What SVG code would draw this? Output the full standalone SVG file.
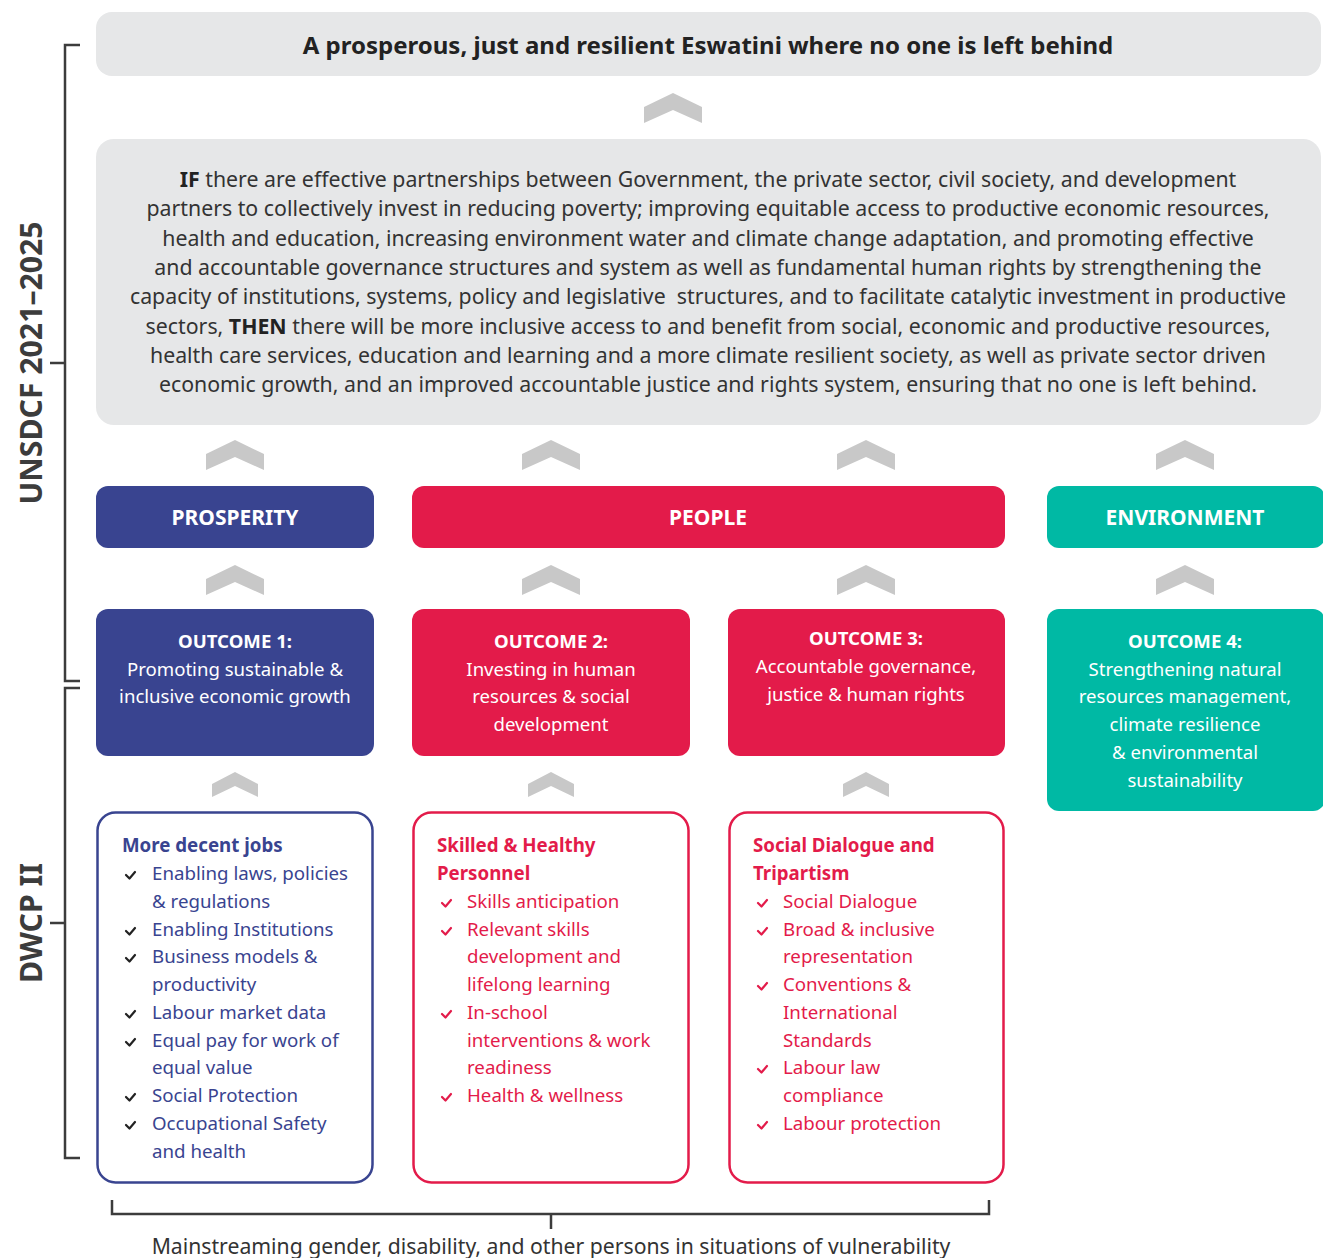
<svg xmlns="http://www.w3.org/2000/svg" width="1323" height="1258" viewBox="0 0 1323 1258">
<defs>
<style>
text{font-family:"Noto Sans","Open Sans","Liberation Sans",sans-serif;}
.g{fill:#e6e7e8;}
.chev{fill:#c8c8c8;}
.br{fill:none;stroke:#3c3c3c;stroke-width:2.5;}
.para{font-size:21.3px;fill:#333;text-anchor:middle;}
.band{font-size:21px;font-weight:bold;fill:#fff;text-anchor:middle;}
.oc{font-size:18.6px;fill:#fff;text-anchor:middle;}
.ocb{font-weight:bold;}
.li{font-size:18.7px;}
.hd{font-weight:bold;}
.blue{fill:#394490;}
.red{fill:#e31b4a;}
.ck{fill:none;stroke-width:2.2;stroke-linecap:round;stroke-linejoin:round;}
</style>
<path id="chev" d="M-29,30 L-29,14 L0,0 L29,14 L29,30 L0,17 Z"/>
<path id="chevs" d="M-23,25 L-23,12 L0,0 L23,12 L23,25 L0,14 Z"/>
<path id="ck" d="M0,0 L3.5,3.5 L9,-3"/>
</defs>
<rect width="1323" height="1258" fill="#fff"/>

<g id="brackets">
<path class="br" d="M80,45 H65 V681 H80 M50,363 H65"/>
<path class="br" d="M80,688 H65 V1158 H80 M50,923 H65"/>
<path class="br" d="M112,1200 V1214 H989 V1200 M551,1214 V1229"/>
<text transform="translate(42,363) rotate(-90)" font-size="30.2" font-weight="bold" fill="#3c3c3c" text-anchor="middle">UNSDCF 2021–2025</text>
<text transform="translate(42,923) rotate(-90)" font-size="30.2" font-weight="bold" fill="#3c3c3c" text-anchor="middle">DWCP II</text>
<text x="551" y="1254" font-size="21.2" fill="#333" text-anchor="middle">Mainstreaming gender, disability, and other persons in situations of vulnerability</text>
</g>

<g id="connectors" class="chev">
<use href="#chev" x="673" y="93"/>
<use href="#chev" x="235" y="440"/>
<use href="#chev" x="551" y="440"/>
<use href="#chev" x="866" y="440"/>
<use href="#chev" x="1185" y="440"/>
<use href="#chev" x="235" y="565"/>
<use href="#chev" x="551" y="565"/>
<use href="#chev" x="866" y="565"/>
<use href="#chev" x="1185" y="565"/>
<use href="#chevs" x="235" y="772"/>
<use href="#chevs" x="551" y="772"/>
<use href="#chevs" x="866" y="772"/>
</g>

<g id="vision">
<rect class="g" x="96" y="12" width="1225" height="64" rx="16"/>
<text x="708" y="54" font-size="24" font-weight="bold" fill="#222" text-anchor="middle">A prosperous, just and resilient Eswatini where no one is left behind</text>
</g>

<g id="theory">
<rect class="g" x="96" y="139" width="1225" height="286" rx="18"/>
<text class="para" xml:space="preserve"><tspan x="708" y="187"><tspan font-weight="bold" fill="#222">IF</tspan> there are effective partnerships between Government, the private sector, civil society, and development</tspan><tspan x="708" y="216">partners to collectively invest in reducing poverty; improving equitable access to productive economic resources,</tspan><tspan x="708" y="246">health and education, increasing environment water and climate change adaptation, and promoting effective</tspan><tspan x="708" y="275">and accountable governance structures and system as well as fundamental human rights by strengthening the</tspan><tspan x="708" y="304">capacity of institutions, systems, policy and legislative  structures, and to facilitate catalytic investment in productive</tspan><tspan x="708" y="334">sectors, <tspan font-weight="bold" fill="#222">THEN</tspan> there will be more inclusive access to and benefit from social, economic and productive resources,</tspan><tspan x="708" y="363">health care services, education and learning and a more climate resilient society, as well as private sector driven</tspan><tspan x="708" y="392">economic growth, and an improved accountable justice and rights system, ensuring that no one is left behind.</tspan></text>
</g>

<g id="prosperity">
<rect x="96" y="486" width="278" height="62" rx="12" fill="#394490"/>
<text class="band" x="235" y="525">PROSPERITY</text>
</g>
<g id="people">
<rect x="412" y="486" width="593" height="62" rx="12" fill="#e31b4a"/>
<text class="band" x="708" y="525">PEOPLE</text>
</g>
<g id="environment">
<rect x="1047" y="486" width="278" height="62" rx="12" fill="#00b9a4"/>
<text class="band" x="1185" y="525">ENVIRONMENT</text>
</g>

<g id="outcome1">
<rect x="96" y="609" width="278" height="147" rx="12" fill="#394490"/>
<text class="oc"><tspan class="ocb" x="235" y="648">OUTCOME 1:</tspan><tspan x="235" y="676">Promoting sustainable &amp;</tspan><tspan x="235" y="703">inclusive economic growth</tspan></text>
</g>
<g id="outcome2">
<rect x="412" y="609" width="278" height="147" rx="12" fill="#e31b4a"/>
<text class="oc"><tspan class="ocb" x="551" y="648">OUTCOME 2:</tspan><tspan x="551" y="676">Investing in human</tspan><tspan x="551" y="703">resources &amp; social</tspan><tspan x="551" y="731">development</tspan></text>
</g>
<g id="outcome3">
<rect x="728" y="609" width="277" height="147" rx="12" fill="#e31b4a"/>
<text class="oc"><tspan class="ocb" x="866" y="645">OUTCOME 3:</tspan><tspan x="866" y="673">Accountable governance,</tspan><tspan x="866" y="701">justice &amp; human rights</tspan></text>
</g>
<g id="outcome4">
<rect x="1047" y="609" width="278" height="202" rx="12" fill="#00b9a4"/>
<text class="oc"><tspan class="ocb" x="1185" y="648">OUTCOME 4:</tspan><tspan x="1185" y="676">Strengthening natural</tspan><tspan x="1185" y="703">resources management,</tspan><tspan x="1185" y="731">climate resilience</tspan><tspan x="1185" y="759">&amp; environmental</tspan><tspan x="1185" y="787">sustainability</tspan></text>
</g>

<g id="jobs">
<rect x="97.5" y="812.5" width="275" height="370" rx="18" fill="#fff" stroke="#394490" stroke-width="2.5"/>
<text class="li blue"><tspan class="hd" x="122" y="852">More decent jobs</tspan><tspan x="152" y="880">Enabling laws, policies</tspan><tspan x="152" y="908">&amp; regulations</tspan><tspan x="152" y="936">Enabling Institutions</tspan><tspan x="152" y="963">Business models &amp;</tspan><tspan x="152" y="991">productivity</tspan><tspan x="152" y="1019">Labour market data</tspan><tspan x="152" y="1047">Equal pay for work of</tspan><tspan x="152" y="1074">equal value</tspan><tspan x="152" y="1102">Social Protection</tspan><tspan x="152" y="1130">Occupational Safety</tspan><tspan x="152" y="1158">and health</tspan></text>
<g class="ck" stroke="#222">
<use href="#ck" x="126" y="875"/><use href="#ck" x="126" y="931"/><use href="#ck" x="126" y="958"/><use href="#ck" x="126" y="1014"/><use href="#ck" x="126" y="1042"/><use href="#ck" x="126" y="1097"/><use href="#ck" x="126" y="1125"/>
</g>
</g>

<g id="skilled">
<rect x="413.5" y="812.5" width="275" height="370" rx="18" fill="#fff" stroke="#e31b4a" stroke-width="2.5"/>
<text class="li red"><tspan class="hd" x="437" y="852">Skilled &amp; Healthy</tspan><tspan class="hd" x="437" y="880">Personnel</tspan><tspan x="467" y="908">Skills anticipation</tspan><tspan x="467" y="936">Relevant skills</tspan><tspan x="467" y="963">development and</tspan><tspan x="467" y="991">lifelong learning</tspan><tspan x="467" y="1019">In-school</tspan><tspan x="467" y="1047">interventions &amp; work</tspan><tspan x="467" y="1074">readiness</tspan><tspan x="467" y="1102">Health &amp; wellness</tspan></text>
<g class="ck" stroke="#e31b4a">
<use href="#ck" x="442" y="903"/><use href="#ck" x="442" y="931"/><use href="#ck" x="442" y="1014"/><use href="#ck" x="442" y="1097"/>
</g>
</g>

<g id="dialogue">
<rect x="729.5" y="812.5" width="274" height="370" rx="18" fill="#fff" stroke="#e31b4a" stroke-width="2.5"/>
<text class="li red"><tspan class="hd" x="753" y="852">Social Dialogue and</tspan><tspan class="hd" x="753" y="880">Tripartism</tspan><tspan x="783" y="908">Social Dialogue</tspan><tspan x="783" y="936">Broad &amp; inclusive</tspan><tspan x="783" y="963">representation</tspan><tspan x="783" y="991">Conventions &amp;</tspan><tspan x="783" y="1019">International</tspan><tspan x="783" y="1047">Standards</tspan><tspan x="783" y="1074">Labour law</tspan><tspan x="783" y="1102">compliance</tspan><tspan x="783" y="1130">Labour protection</tspan></text>
<g class="ck" stroke="#e31b4a">
<use href="#ck" x="758" y="903"/><use href="#ck" x="758" y="931"/><use href="#ck" x="758" y="986"/><use href="#ck" x="758" y="1069"/><use href="#ck" x="758" y="1125"/>
</g>
</g>
</svg>
